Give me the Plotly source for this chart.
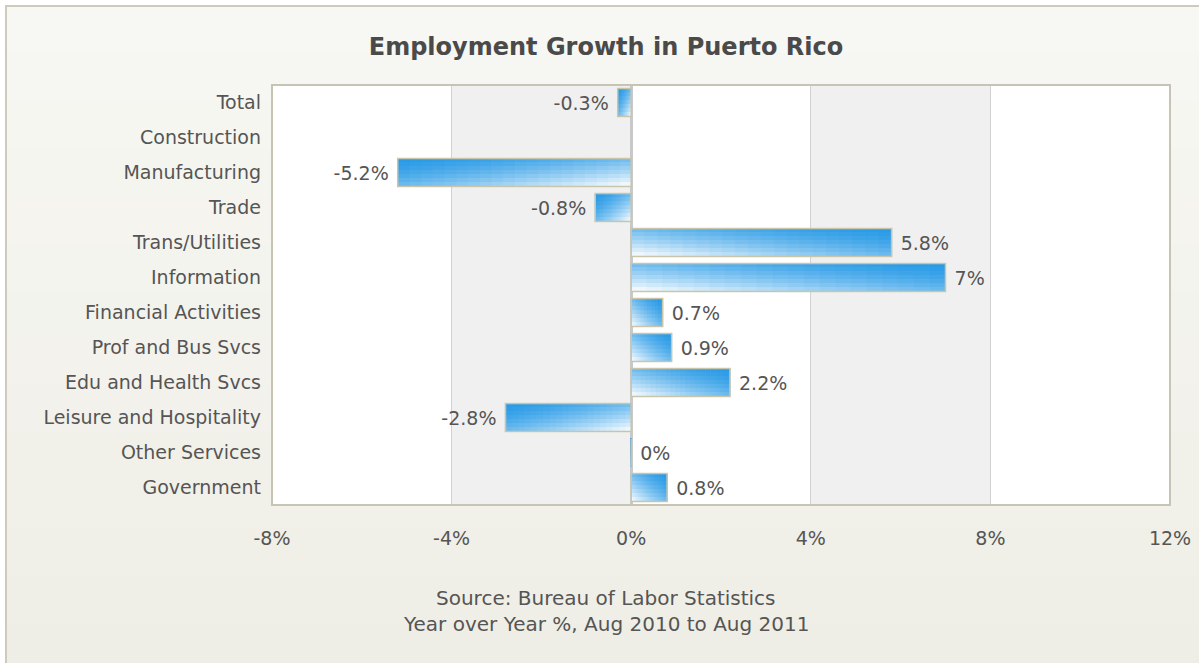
import plotly.graph_objects as go

# ---- data ----
categories = ["Total", "Construction", "Manufacturing", "Trade", "Trans/Utilities",
              "Information", "Financial Activities", "Prof and Bus Svcs",
              "Edu and Health Svcs", "Leisure and Hospitality", "Other Services", "Government"]
growth = [-0.3, None, -5.2, -0.8, 5.8, 7.0, 0.7, 0.9, 2.2, -2.8, 0.0, 0.8]
x_ticks = [-8, -4, 0, 4, 8, 12]
x_tick_labels = [f"{t}%" for t in x_ticks]

title_text = "Employment Growth in Puerto Rico"
source_line1 = "Source: Bureau of Labor Statistics"
source_line2 = "Year over Year %, Aug 2010 to Aug 2011"

# ---- styling ----
W, H = 1199, 663
L, R, T, B = 272, 29, 85, 158
FONT = "DejaVu Sans"
TXT = "#555555"
BLUE = (40, 154, 230)
BAR_W = 0.8
S = 7   # vertical stripes (gradient)
N = 20  # horizontal segments (gradient)

def mix(s):
    s = max(0.0, min(1.0, s))
    r = round(BLUE[0] + (255 - BLUE[0]) * s)
    g = round(BLUE[1] + (255 - BLUE[1]) * s)
    b = round(BLUE[2] + (255 - BLUE[2]) * s)
    return f"rgb({r},{g},{b})"

fig = go.Figure()

vals = [v if v is not None else 0 for v in growth]
for i in range(S):
    tv = (i + 0.5) / S
    for j in range(N):
        th = (j + 0.5) / N  # 0 at zero end, 1 at value end
        s = ((1 - th) + tv) / 2
        s = s ** 1.6
        col = mix(s)
        fig.add_trace(go.Bar(
            y=categories,
            x=[v / N if g is not None else None for v, g in zip(vals, growth)],
            base=[v * j / N for v in vals],
            orientation="h",
            width=BAR_W / S,
            offset=-BAR_W / 2 + i * BAR_W / S,
            marker=dict(color=col, line=dict(width=0.8, color=col)),
            hoverinfo="skip",
            showlegend=False,
        ))

labels = []
for v in growth:
    if v is None:
        labels.append("")
    elif v < 0:
        labels.append(f"{v:g}% ")
    else:
        labels.append(f" {v:g}%")

fig.add_trace(go.Bar(
    y=categories, x=growth, orientation="h", width=BAR_W,
    marker=dict(color="rgba(0,0,0,0)", line=dict(color="#c9c5aa", width=1.5)),
    text=labels, textposition="outside", cliponaxis=False,
    textfont=dict(family=FONT, size=19, color=TXT),
    showlegend=False, hoverinfo="skip",
))

pw = W - L - R
ph = H - T - B
def px_x(px):
    return (px - L) / pw
def px_y(py):
    return (H - B - py) / ph

shapes = []
# outer background with soft vertical gradient
top_c = (247, 247, 243)
bot_c = (239, 238, 230)
nb = 14
y_top, y_bot = 6, 670
for k in range(nb):
    f = k / (nb - 1)
    c = tuple(round(top_c[m] + (bot_c[m] - top_c[m]) * f) for m in range(3))
    y0 = y_top + (y_bot - y_top) * k / nb
    y1 = y_top + (y_bot - y_top) * (k + 1) / nb + 1
    shapes.append(dict(type="rect", xref="paper", yref="paper", layer="below",
                       x0=px_x(6), x1=px_x(1210), y0=px_y(y0), y1=px_y(y1),
                       fillcolor=f"rgb{c}", line=dict(width=0)))
shapes.append(dict(type="rect", xref="paper", yref="paper", layer="below",
                   x0=px_x(6), x1=px_x(1210), y0=px_y(6), y1=px_y(670),
                   fillcolor="rgba(0,0,0,0)", line=dict(color="#cfcbbb", width=2)))
# plot area white
shapes.append(dict(type="rect", xref="paper", yref="paper", layer="below",
                   x0=0, x1=1, y0=0, y1=1, fillcolor="white", line=dict(width=0)))
# alternating bands
for a, b in [(x_ticks[1], x_ticks[2]), (x_ticks[3], x_ticks[4])]:
    shapes.append(dict(type="rect", xref="x", yref="paper", layer="below",
                       x0=a, x1=b, y0=0, y1=1, fillcolor="#f0f0f0", line=dict(width=0)))
# plot frame
shapes.append(dict(type="rect", xref="paper", yref="paper", layer="above",
                   x0=0, x1=1, y0=0, y1=1, fillcolor="rgba(0,0,0,0)",
                   line=dict(color="#c8c4b4", width=2)))

fig.update_layout(
    width=W, height=H,
    margin=dict(l=L, r=R, t=T, b=B, pad=0, autoexpand=False),
    paper_bgcolor="white", plot_bgcolor="white",
    barmode="overlay", bargap=0.2,
    shapes=shapes,
    title=dict(text=title_text, x=606 / W, xref="container", xanchor="center",
               y=1 - 47 / H, yref="container", yanchor="middle",
               font=dict(family=FONT, size=24, color="#4a4a4a", weight="bold")),
    xaxis=dict(range=[x_ticks[0], x_ticks[-1]], tickvals=x_ticks, ticktext=x_tick_labels,
               showgrid=True, gridcolor="#d2d2d2", gridwidth=1,
               zeroline=True, zerolinecolor="#c8c8c8", zerolinewidth=3,
               showline=False, ticks="", ticklabelstandoff=20, automargin=False,
               tickfont=dict(family=FONT, size=19, color=TXT), fixedrange=True),
    yaxis=dict(categoryorder="array", categoryarray=categories, autorange="reversed",
               showgrid=False, zeroline=False, showline=False, ticks="",
               ticklabelstandoff=10, automargin=False,
               tickfont=dict(family=FONT, size=19, color=TXT), fixedrange=True),
    annotations=[
        dict(text=source_line1, xref="paper", yref="paper", x=px_x(606), y=px_y(598),
             xanchor="center", yanchor="middle", showarrow=False,
             font=dict(family=FONT, size=20, color=TXT)),
        dict(text=source_line2, xref="paper", yref="paper", x=px_x(606), y=px_y(624),
             xanchor="center", yanchor="middle", showarrow=False,
             font=dict(family=FONT, size=20, color=TXT)),
    ],
)

fig.write_html("out.html", config={"displayModeBar": False})
